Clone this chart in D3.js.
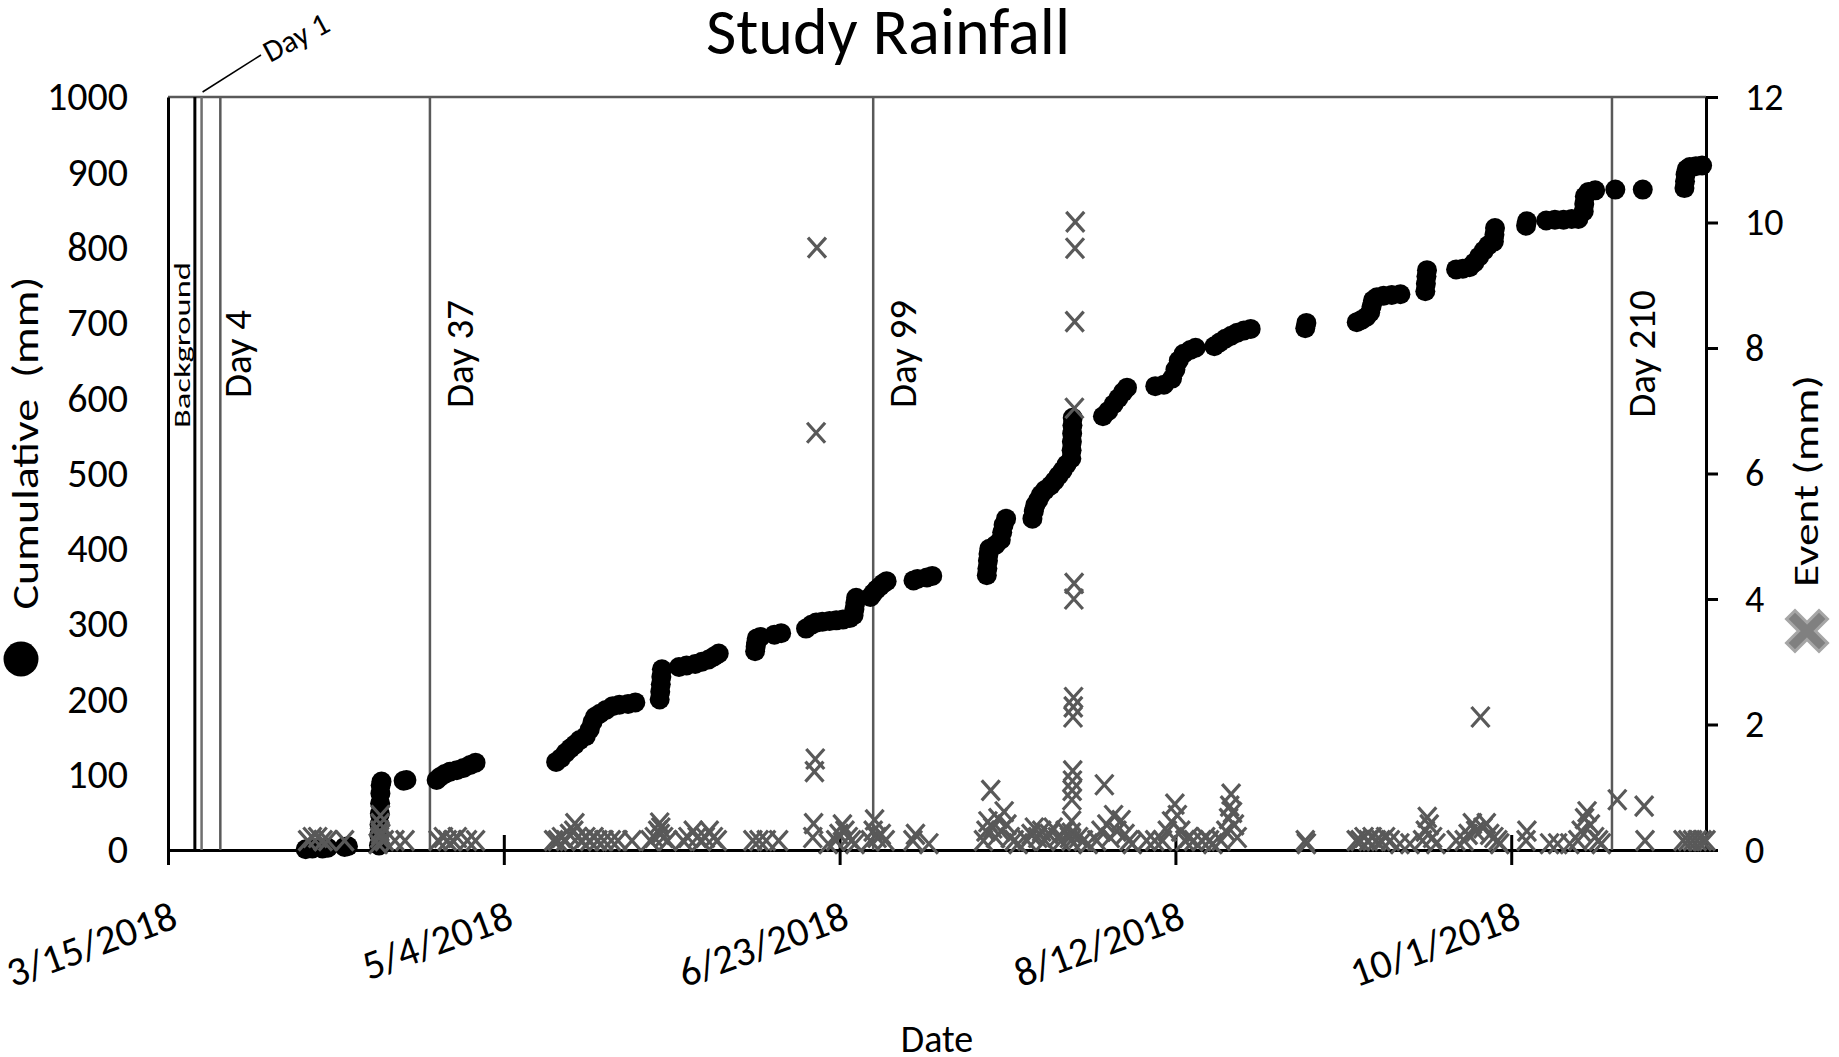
<!DOCTYPE html>
<html lang="en">
<head>
<meta charset="UTF-8" />
<title>Study Rainfall</title>
<style>
  body { margin: 0; background: #fff; }
  svg text { font-family: Carlito, Calibri, Lato, sans-serif; fill: #000; }
</style>
</head>
<body>
<div id="chart"></div>
<script src="https://cdnjs.cloudflare.com/ajax/libs/d3/7.8.5/d3.min.js"></script>
<script>
// axis settings
var xRange = ['2018-03-15 00', '2018-10-30 00'];
var xTicks = ['2018-03-15 00', '2018-05-04 00', '2018-06-23 00', '2018-08-12 00', '2018-10-01 00'];
var cumTicks = [0, 100, 200, 300, 400, 500, 600, 700, 800, 900, 1000];
var eventTicks = [0, 2, 4, 6, 8, 10, 12];

// sampling milestones (vertical lines)
var markerNames = ['Background', 'Day 1', 'Day 4', 'Day 37', 'Day 99', 'Day 210'];
var markerDates = ['2018-03-19 00', '2018-03-20 00', '2018-03-22 19', '2018-04-23 00', '2018-06-28 00', '2018-10-16 00'];

// cumulative rainfall (mm)
var cumDates = [
  '2018-04-04 12', '2018-04-05 12', '2018-04-07 00', '2018-04-07 19', '2018-04-10 07', '2018-04-10 19',
  '2018-04-15 10', '2018-04-15 11', '2018-04-15 12', '2018-04-15 13', '2018-04-15 14', '2018-04-15 15', '2018-04-15 16', '2018-04-15 19', '2018-04-19 02', '2018-04-19 12',
  '2018-04-24 00', '2018-04-24 12', '2018-04-25 05', '2018-04-26 00', '2018-04-27 00', '2018-04-28 00', '2018-04-29 00', '2018-04-29 19',
  '2018-05-11 19', '2018-05-12 12', '2018-05-13 05', '2018-05-13 22', '2018-05-14 14', '2018-05-15 07', '2018-05-16 05', '2018-05-16 19',
  '2018-05-17 05', '2018-05-17 14', '2018-05-18 07', '2018-05-19 05', '2018-05-20 05', '2018-05-21 05', '2018-05-22 12', '2018-05-23 14',
  '2018-05-27 05', '2018-05-27 07', '2018-05-27 09', '2018-05-27 11', '2018-05-27 13',
  '2018-05-30 02', '2018-05-31 05', '2018-06-01 12', '2018-06-02 12', '2018-06-03 12', '2018-06-04 07', '2018-06-05 00',
  '2018-06-10 10', '2018-06-10 12', '2018-06-10 14', '2018-06-10 16', '2018-06-11 05', '2018-06-13 07', '2018-06-14 07',
  '2018-06-18 00', '2018-06-18 19', '2018-06-19 12', '2018-06-20 10', '2018-06-21 12', '2018-06-22 12', '2018-06-23 12', '2018-06-24 12',
  '2018-06-25 02', '2018-06-25 05', '2018-06-25 08', '2018-06-25 11',
  '2018-06-27 14', '2018-06-28 00', '2018-06-28 12', '2018-06-29 00', '2018-06-29 12', '2018-06-30 00',
  '2018-07-04 00', '2018-07-04 14', '2018-07-06 00', '2018-07-06 19',
  '2018-07-14 22', '2018-07-15 00', '2018-07-15 02', '2018-07-15 04', '2018-07-15 07', '2018-07-16 05', '2018-07-17 00', '2018-07-17 05', '2018-07-17 10', '2018-07-17 19',
  '2018-07-21 17', '2018-07-21 22', '2018-07-22 03', '2018-07-22 14', '2018-07-23 00', '2018-07-23 14', '2018-07-24 10', '2018-07-25 00', '2018-07-25 14', '2018-07-26 05', '2018-07-26 19',
  '2018-07-27 12', '2018-07-27 13', '2018-07-27 14', '2018-07-27 15', '2018-07-27 16', '2018-07-27 17',
  '2018-08-01 05', '2018-08-02 00', '2018-08-02 19', '2018-08-03 12', '2018-08-04 05', '2018-08-04 19',
  '2018-08-09 00', '2018-08-10 07', '2018-08-11 12', '2018-08-12 00', '2018-08-12 12', '2018-08-13 05', '2018-08-14 05', '2018-08-15 00',
  '2018-08-17 19', '2018-08-18 14', '2018-08-19 10', '2018-08-20 07', '2018-08-21 05', '2018-08-22 05', '2018-08-23 05',
  '2018-08-31 08', '2018-08-31 12',
  '2018-09-08 00', '2018-09-08 17', '2018-09-09 10', '2018-09-10 00', '2018-09-10 05', '2018-09-10 10', '2018-09-11 00', '2018-09-12 00', '2018-09-13 05', '2018-09-14 12',
  '2018-09-18 05', '2018-09-18 07', '2018-09-18 09', '2018-09-18 11',
  '2018-09-22 19', '2018-09-23 19', '2018-09-24 19', '2018-09-25 12', '2018-09-26 05', '2018-09-26 22', '2018-09-27 14', '2018-09-28 10', '2018-09-28 12', '2018-09-28 14',
  '2018-10-03 05', '2018-10-03 08',
  '2018-10-06 05', '2018-10-07 12', '2018-10-08 19', '2018-10-10 00', '2018-10-11 00',
  '2018-10-11 19', '2018-10-11 21', '2018-10-11 23', '2018-10-12 12', '2018-10-13 12',
  '2018-10-16 12', '2018-10-20 14',
  '2018-10-26 19', '2018-10-26 21', '2018-10-26 23', '2018-10-27 03', '2018-10-27 14', '2018-10-28 12', '2018-10-29 10'
];
var cumValues = [
  1, 2, 2, 3, 4, 5,
  6, 20, 34, 48, 62, 75, 86, 91, 92, 93,
  93, 97, 101, 104, 106, 109, 113, 116,
  117, 122, 129, 135, 140, 146, 151, 160,
  170, 177, 181, 186, 191, 193, 194, 196,
  200, 210, 220, 230, 240,
  243, 245, 247, 250, 253, 257, 261,
  264, 270, 276, 281, 283, 286, 288,
  294, 299, 302, 303, 304, 305, 306, 308,
  312, 320, 328, 335,
  336, 341, 346, 350, 354, 357,
  358, 360, 362, 364,
  365, 374, 384, 393, 400, 405, 412, 422, 432, 440,
  440, 450, 458, 465, 472, 478, 484, 490, 497, 504, 512,
  520, 531, 542, 553, 564, 574,
  576, 583, 592, 600, 608, 614,
  616, 618, 626, 638, 650, 659, 664, 667,
  669, 674, 679, 683, 687, 690, 692,
  693, 700,
  701, 704, 708, 714, 722, 730, 734, 736, 737, 738,
  742, 752, 762, 770,
  771, 772, 774, 780, 788, 796, 803, 808, 817, 826,
  829, 835,
  836, 837, 837, 838, 838,
  848, 858, 868, 874, 876,
  877, 877,
  879, 888, 897, 904, 907, 908, 909
];

// individual rain events (mm)
var eventDates = [
  '2018-04-04 19', '2018-04-05 12', '2018-04-06 07', '2018-04-07 02', '2018-04-07 19', '2018-04-10 07',
  '2018-04-15 07', '2018-04-15 12', '2018-04-15 13', '2018-04-15 14', '2018-04-15 15', '2018-04-15 16', '2018-04-16 05', '2018-04-17 19', '2018-04-19 07',
  '2018-04-24 05', '2018-04-25 00', '2018-04-25 14', '2018-04-26 10', '2018-04-27 02', '2018-04-28 14', '2018-04-29 19',
  '2018-05-11 10', '2018-05-12 00', '2018-05-12 14', '2018-05-13 05', '2018-05-13 19', '2018-05-14 10', '2018-05-14 14', '2018-05-15 00',
  '2018-05-15 14', '2018-05-16 05', '2018-05-16 19', '2018-05-17 10', '2018-05-18 00', '2018-05-18 22', '2018-05-20 00', '2018-05-21 00', '2018-05-23 02',
  '2018-05-25 19', '2018-05-26 10', '2018-05-26 22', '2018-05-27 05', '2018-05-27 07', '2018-05-27 09', '2018-05-27 19', '2018-05-28 10', '2018-05-30 17', '2018-05-31 10',
  '2018-06-01 05', '2018-06-01 19', '2018-06-02 10', '2018-06-03 00', '2018-06-03 14', '2018-06-04 05', '2018-06-04 19', '2018-06-10 02', '2018-06-11 00', '2018-06-12 02', '2018-06-13 22',
  '2018-06-19 00', '2018-06-19 03', '2018-06-19 06', '2018-06-19 09', '2018-06-19 12', '2018-06-19 15',
  '2018-06-21 07', '2018-06-22 10', '2018-06-22 22', '2018-06-23 10', '2018-06-23 19', '2018-06-24 07', '2018-06-24 19', '2018-06-25 07',
  '2018-06-27 14', '2018-06-28 00', '2018-06-28 05', '2018-06-28 14', '2018-06-29 05', '2018-06-29 19',
  '2018-07-03 22', '2018-07-04 07', '2018-07-06 07',
  '2018-07-14 10', '2018-07-14 19', '2018-07-15 02', '2018-07-15 12', '2018-07-15 19', '2018-07-16 05', '2018-07-16 14', '2018-07-17 00', '2018-07-17 12', '2018-07-17 22', '2018-07-18 10', '2018-07-19 00', '2018-07-19 14',
  '2018-07-20 22', '2018-07-21 12', '2018-07-22 00', '2018-07-22 12', '2018-07-23 02', '2018-07-23 14', '2018-07-24 05', '2018-07-24 19', '2018-07-25 10', '2018-07-26 00', '2018-07-26 14', '2018-07-27 05',
  '2018-07-27 11', '2018-07-27 12', '2018-07-27 13', '2018-07-27 14', '2018-07-27 15', '2018-07-27 16', '2018-07-27 17', '2018-07-27 18',
  '2018-07-27 19', '2018-07-27 20', '2018-07-27 21', '2018-07-27 22', '2018-07-27 23', '2018-07-28 00', '2018-07-28 01', '2018-07-28 02',
  '2018-07-28 14', '2018-07-29 07', '2018-07-30 00', '2018-07-31 07', '2018-07-31 22', '2018-08-01 10', '2018-08-01 19', '2018-08-02 07', '2018-08-02 19', '2018-08-03 07', '2018-08-03 22', '2018-08-04 12', '2018-08-05 02', '2018-08-05 14',
  '2018-08-07 17', '2018-08-08 22', '2018-08-10 02', '2018-08-10 19', '2018-08-11 10', '2018-08-11 22', '2018-08-12 07', '2018-08-12 19', '2018-08-13 10', '2018-08-14 00', '2018-08-14 17', '2018-08-15 22', '2018-08-16 12', '2018-08-17 02', '2018-08-17 14',
  '2018-08-18 19', '2018-08-19 12', '2018-08-19 22', '2018-08-20 02', '2018-08-20 07', '2018-08-20 12', '2018-08-20 19', '2018-08-21 05',
  '2018-08-31 08', '2018-08-31 12',
  '2018-09-07 22', '2018-09-08 12', '2018-09-09 02', '2018-09-09 17', '2018-09-10 07', '2018-09-10 22', '2018-09-11 14', '2018-09-12 07', '2018-09-13 00', '2018-09-14 10', '2018-09-15 22',
  '2018-09-17 19', '2018-09-18 05', '2018-09-18 12', '2018-09-18 19', '2018-09-19 07', '2018-09-19 19',
  '2018-09-22 19', '2018-09-24 00', '2018-09-24 14', '2018-09-25 05', '2018-09-25 17', '2018-09-26 10', '2018-09-26 19', '2018-09-27 07', '2018-09-27 19', '2018-09-28 10', '2018-09-29 00', '2018-09-29 07',
  '2018-10-03 05', '2018-10-03 08', '2018-10-06 17', '2018-10-07 22', '2018-10-09 17',
  '2018-10-10 22', '2018-10-11 10', '2018-10-11 22', '2018-10-12 07', '2018-10-12 19', '2018-10-13 10', '2018-10-14 00', '2018-10-14 10',
  '2018-10-16 19', '2018-10-20 19', '2018-10-20 22',
  '2018-10-26 14', '2018-10-27 07', '2018-10-28 00', '2018-10-28 17', '2018-10-29 10', '2018-10-30 00'
];
var eventValues = [
  0.15, 0.2, 0.2, 0.15, 0.15, 0.15,
  0.1, 0.2, 0.3, 0.42, 0.55, 0.25, 0.15, 0.15, 0.15,
  0.15, 0.2, 0.15, 0.15, 0.2, 0.15, 0.15,
  0.15, 0.15, 0.2, 0.15, 0.25, 0.3, 0.42, 0.2,
  0.15, 0.2, 0.15, 0.2, 0.15, 0.15, 0.15, 0.15, 0.15,
  0.15, 0.2, 0.3, 0.43, 0.25, 0.35, 0.2, 0.15, 0.15, 0.2,
  0.3, 0.2, 0.15, 0.2, 0.3, 0.2, 0.15, 0.15, 0.15, 0.15, 0.15,
  0.2, 0.42, 1.25, 1.45, 6.65, 9.6,
  0.1, 0.15, 0.25, 0.4, 0.3, 0.2, 0.15, 0.1,
  0.15, 0.3, 0.48, 0.2, 0.25, 0.15,
  0.15, 0.25, 0.1,
  0.15, 0.3, 0.45, 0.95, 0.35, 0.2, 0.5, 0.3, 0.61, 0.4, 0.2, 0.15, 0.1,
  0.15, 0.25, 0.35, 0.2, 0.3, 0.15, 0.25, 0.35, 0.2, 0.15, 0.3, 0.2,
  0.15, 0.27, 0.46, 0.8, 0.95, 1.1, 1.26, 2.12,
  2.28, 2.43, 4.0, 4.25, 7.04, 8.42, 9.59, 10.01,
  0.2, 0.15, 0.1, 0.15, 0.3, 1.04, 0.4, 0.2, 0.55, 0.3, 0.47, 0.25, 0.15, 0.1,
  0.15, 0.15, 0.15, 0.3, 0.45, 0.73, 0.55, 0.3, 0.15, 0.2, 0.15, 0.15, 0.2, 0.15, 0.1,
  0.15, 0.3, 0.5, 0.7, 0.89, 0.6, 0.4, 0.2,
  0.15, 0.1,
  0.15, 0.15, 0.2, 0.15, 0.2, 0.15, 0.15, 0.2, 0.15, 0.1, 0.1,
  0.15, 0.3, 0.52, 0.4, 0.2, 0.1,
  0.15, 0.15, 0.25, 0.42, 0.3, 2.12, 0.35, 0.42, 0.25, 0.2, 0.15, 0.1,
  0.15, 0.3, 0.1, 0.1, 0.1,
  0.15, 0.3, 0.5, 0.61, 0.4, 0.2, 0.15, 0.1,
  0.8, 0.7, 0.15,
  0.15, 0.15, 0.15, 0.15, 0.15, 0.15
];

var width = 1839;
var height = 1057;
// plot box (note: "top" is taken by window.top, so use other names)
var plotLeft = 168, plotRight = 1706, plotTop = 97, plotBottom = 850;

var parseTime = d3.utcParse('%Y-%m-%d %H');
var formatTick = d3.utcFormat('%-m/%-d/%Y');

var x = d3.scaleUtc().domain(xRange.map(parseTime)).range([plotLeft, plotRight]);
var yCum = d3.scaleLinear().domain([0, 1000]).range([plotBottom, plotTop]);
var yEvent = d3.scaleLinear().domain([0, 12]).range([plotBottom, plotTop]);

var svg = d3.select('#chart').append('svg')
  .attr('width', width)
  .attr('height', height);

// title
svg.append('text')
  .attr('x', 888).attr('y', 54)
  .attr('text-anchor', 'middle')
  .style('font-size', '66px')
  .text('Study Rainfall');

// top border of the plot
svg.append('line')
  .attr('x1', plotLeft).attr('x2', plotRight)
  .attr('y1', plotTop).attr('y2', plotTop)
  .attr('stroke', '#595959').attr('stroke-width', 2.7);

// left axis, labels only
var axisL = svg.append('g')
  .attr('transform', 'translate(' + plotLeft + ',0)')
  .call(d3.axisLeft(yCum).tickValues(cumTicks).tickFormat(d3.format('d'))
    .tickSize(0).tickSizeOuter(0).tickPadding(40));
axisL.attr('font-size', null).style('font-size', '40px');
axisL.select('.domain').attr('stroke-width', 3);

// right axis
var axisR = svg.append('g')
  .attr('transform', 'translate(' + plotRight + ',0)')
  .call(d3.axisRight(yEvent).tickValues(eventTicks).tickFormat(d3.format('d'))
    .tickSize(12).tickSizeOuter(0).tickPadding(27));
axisR.attr('font-size', null).style('font-size', '38px');
axisR.selectAll('path, line').attr('stroke-width', 3);

// bottom axis, ticks cross the line
var axisB = svg.append('g')
  .attr('transform', 'translate(0,' + plotBottom + ')')
  .call(d3.axisBottom(x).tickValues(xTicks.map(parseTime)).tickSize(15).tickSizeOuter(0).tickFormat(formatTick));
axisB.attr('font-size', null).style('font-size', '41px');
axisB.selectAll('path, line').attr('stroke-width', 3);
axisB.selectAll('.tick line').attr('y1', -15).attr('y2', 15);
axisB.selectAll('.tick text')
  .attr('x', 0).attr('y', 0).attr('dy', null)
  .attr('text-anchor', 'end')
  .attr('transform', 'translate(11,77) rotate(-20)');

// milestone lines and their labels
var markers = markerNames.map(function (n, i) {
  return { name: n, date: parseTime(markerDates[i]) };
});
var markG = svg.append('g');
markers.forEach(function (m) {
  var xm = x(m.date);
  var isBg = m.name === 'Background';
  markG.append('line')
    .attr('x1', xm).attr('x2', xm)
    .attr('y1', plotBottom).attr('y2', plotTop)
    .attr('stroke', isBg ? '#000' : (m.name === 'Day 1' ? '#6f6f6f' : '#595959'))
    .attr('stroke-width', isBg ? 3 : 2.5);

  if (isBg) {
    markG.append('text')
      .attr('transform', 'translate(' + (xm - 5) + ',345) rotate(-90)')
      .attr('text-anchor', 'middle')
      .attr('textLength', 166).attr('lengthAdjust', 'spacingAndGlyphs')
      .style('font-size', '23px')
      .text(m.name);
  } else if (m.name === 'Day 1') {
    markG.append('line')
      .attr('x1', xm + 1).attr('y1', plotTop - 5)
      .attr('x2', 261).attr('y2', 55)
      .attr('stroke', '#000').attr('stroke-width', 1.5);
    markG.append('text')
      .attr('transform', 'translate(270,63) rotate(-28)')
      .style('font-size', '31px')
      .text(m.name);
  } else {
    var dx = m.name === 'Day 4' ? 31 : 43;
    markG.append('text')
      .attr('transform', 'translate(' + (xm + dx) + ',354) rotate(-90)')
      .attr('text-anchor', 'middle')
      .style('font-size', '39px')
      .text(m.name);
  }
});

// cumulative series
var cumData = cumDates.map(function (d, i) {
  return { date: parseTime(d), value: cumValues[i] };
});
svg.append('g')
  .selectAll('circle')
  .data(cumData)
  .join('circle')
  .attr('cx', function (d) { return x(d.date); })
  .attr('cy', function (d) { return yCum(d.value); })
  .attr('r', 10)
  .attr('fill', '#000');

// event series
var eventData = eventDates.map(function (d, i) {
  return { date: parseTime(d), value: eventValues[i] };
});
svg.append('g')
  .selectAll('path')
  .data(eventData)
  .join('path')
  .attr('d', 'M-9,-10L9,10M9,-10L-9,10')
  .attr('transform', function (d) {
    return 'translate(' + x(d.date) + ',' + yEvent(d.value) + ')';
  })
  .attr('fill', 'none')
  .attr('stroke', '#595959')
  .attr('stroke-width', 3.2);

// axis titles with legend symbols
svg.append('text')
  .attr('transform', 'translate(38,443) rotate(-90)')
  .attr('text-anchor', 'middle')
  .attr('textLength', 333).attr('lengthAdjust', 'spacingAndGlyphs')
  .style('font-size', '36px')
  .style('white-space', 'pre')
  .text('Cumulative  (mm)');
svg.append('circle')
  .attr('cx', 21).attr('cy', 659).attr('r', 17.5)
  .attr('fill', '#000');

svg.append('text')
  .attr('transform', 'translate(1818,481) rotate(-90)')
  .attr('text-anchor', 'middle')
  .attr('textLength', 212).attr('lengthAdjust', 'spacingAndGlyphs')
  .style('font-size', '35px')
  .text('Event (mm)');
var legX = svg.append('g').attr('transform', 'translate(1807,631)');
legX.append('path')
  .attr('d', 'M-12,-12L12,12M12,-12L-12,12')
  .attr('stroke', '#a6a6a6').attr('stroke-width', 15)
  .attr('stroke-linecap', 'square');
legX.append('path')
  .attr('d', 'M-12,-12L12,12M12,-12L-12,12')
  .attr('stroke', '#808080').attr('stroke-width', 9)
  .attr('stroke-linecap', 'square');

svg.append('text')
  .attr('x', (plotLeft + plotRight) / 2).attr('y', 1052)
  .attr('text-anchor', 'middle')
  .style('font-size', '38px')
  .text('Date');
</script>
</body>
</html>
